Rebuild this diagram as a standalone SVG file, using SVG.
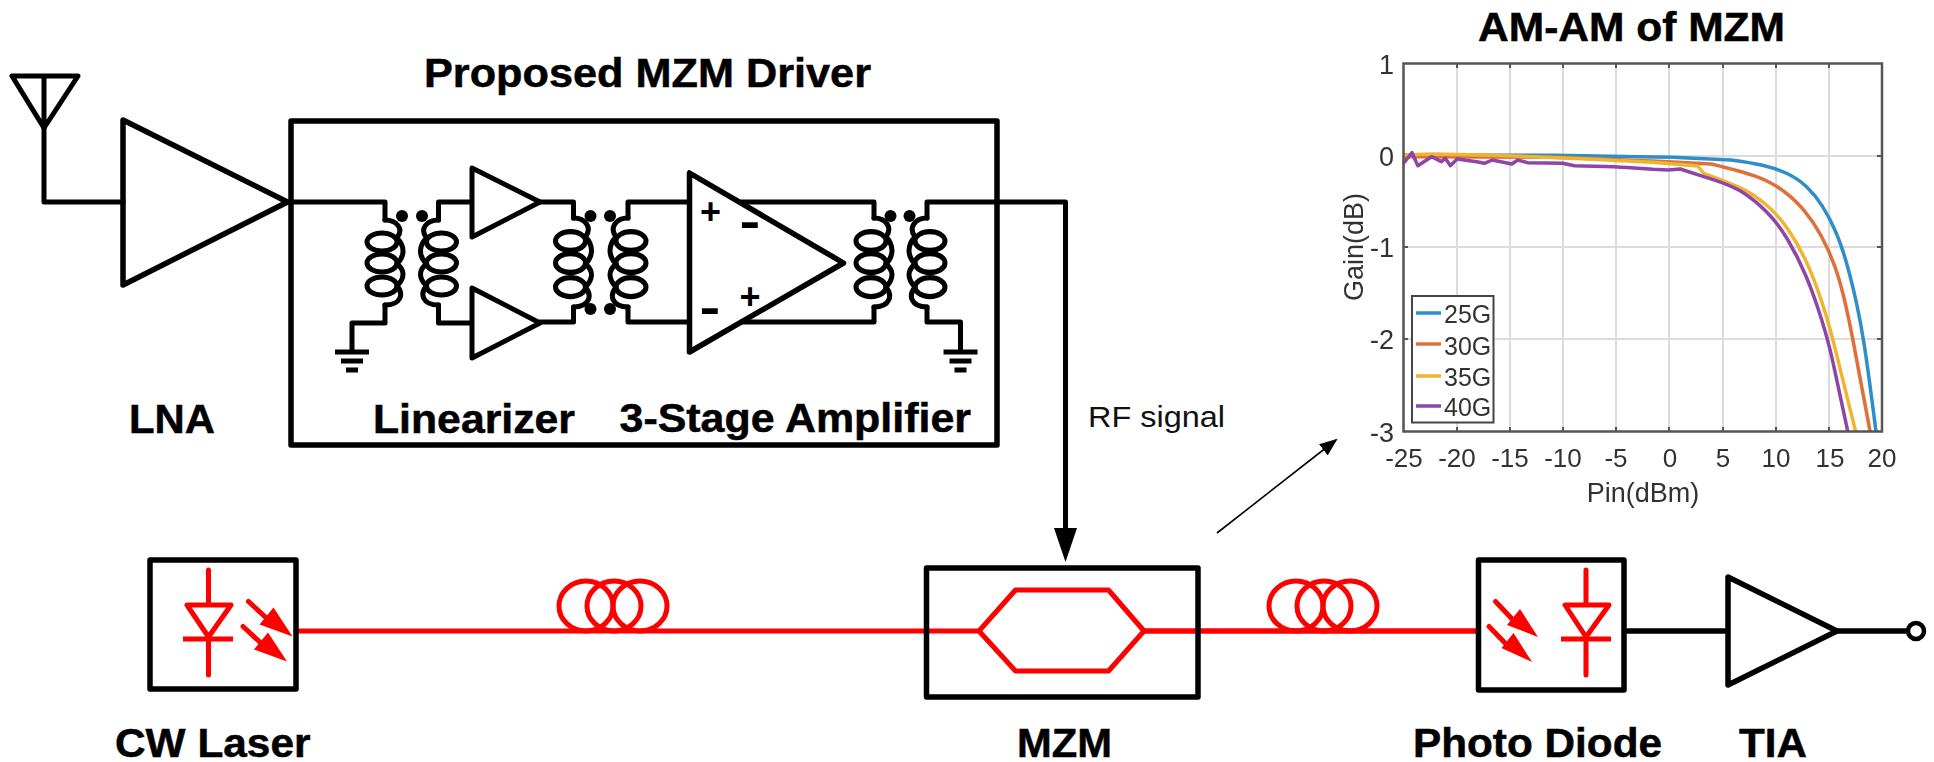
<svg xmlns="http://www.w3.org/2000/svg" width="1934" height="762" viewBox="0 0 1934 762">
<style>
.k{fill:none;stroke:#000;stroke-width:5;stroke-linejoin:round;stroke-linecap:round}
.b{fill:none;stroke:#000;stroke-width:5.500;stroke-linejoin:round}
.r{fill:none;stroke:#f00;stroke-width:5;stroke-linejoin:round;stroke-linecap:round}
.rf{fill:#f00;stroke:none}
.dot{fill:#000}
.lb{font-family:"Liberation Sans",Arial,sans-serif;font-weight:700;font-size:40px;fill:#000;stroke:#000;stroke-width:.5}
.sg{font-family:"Liberation Sans",Arial,sans-serif;font-weight:700;font-size:36px;fill:#000;text-anchor:middle}
.sm{font-family:"Liberation Sans",Arial,sans-serif;font-weight:700;font-size:48px;fill:#000;text-anchor:middle}
.rg{font-family:"Liberation Sans",Arial,sans-serif;font-size:30px;fill:#111}
.t{font-family:"Liberation Sans",Arial,sans-serif;font-size:26px;fill:#333;text-anchor:middle}
.ty{font-family:"Liberation Sans",Arial,sans-serif;font-size:27px;fill:#333;text-anchor:end}
.lg{font-family:"Liberation Sans",Arial,sans-serif;font-size:25px;fill:#333}
.grid{fill:none;stroke:#dcdcdc;stroke-width:2}
.c{fill:none;stroke-width:3.500;stroke-linejoin:round;vector-effect:non-scaling-stroke}
</style>
<defs>
<filter id="soft" x="-5%" y="-5%" width="110%" height="110%"><feGaussianBlur stdDeviation="0.6"/></filter>
<g id="coil" class="k">
<ellipse cx="-3" cy="22" rx="15" ry="9"/><ellipse cx="-3" cy="43" rx="15" ry="9"/><ellipse cx="-3" cy="66" rx="15" ry="9"/>
<path d="M0,0C12,0 19,9 12,18C20,26 20,36 12,44C20,50 20,58 12,66C19,74 16,85 0,85"/>
</g>
<g id="gnd"><rect x="-17" y="-2.500" width="34" height="5"/><rect x="-11" y="6.500" width="22" height="5"/><rect x="-6" y="15.500" width="12" height="5"/></g>
<g id="pd-arrows">
<path class="r" d="M0,0L26,24"/><path class="rf" d="M44,35L25,6L11,23Z"/>
</g>
<marker id="thin" markerWidth="18" markerHeight="14" refX="16" refY="7" orient="auto" markerUnits="userSpaceOnUse"><path d="M0,0L18,7L0,14Z" fill="#000"/></marker>
</defs>

<g id="connectors">
<path class="k" d="M44,128V202H123"/>
<path class="k" d="M287,202H385V220"/>
<path class="k" d="M385,305V323H352V350"/>
<path class="k" d="M471,202H438.500V220"/>
<path class="k" d="M471,323H438.500V305"/>
<path class="k" d="M540,202H573.500V218"/>
<path class="k" d="M540,322H573.500V307"/>
<path class="k" d="M689.500,202H628V218"/>
<path class="k" d="M689.500,322H628V307"/>
<path class="k" d="M741,202H874V218"/>
<path class="k" d="M741,322H874V307"/>
<path class="k" d="M927,218V202H1065.500V530"/>
<path class="k" d="M927,307V322H960.500V350"/>
<path d="M1054,528H1077L1065.500,562Z" fill="#000"/>
<path d="M1217,533L1336,440" fill="none" stroke="#000" stroke-width="1.600" marker-end="url(#thin)"/>
<path class="r" d="M296,631H979"/>
<path d="M1144,631H1477" fill="none" stroke="#f00" stroke-width="5.500"/>
<path d="M1624,631H1728M1837,631H1908" fill="none" stroke="#000" stroke-width="5.500"/>
</g>

<g id="antenna"><path class="k" d="M12,76H78L44,128Z M44,76V128"/></g>
<g id="lna"><path class="b" d="M123,120V285L287.500,202Z"/><text class="lb" x="129" y="433" textLength="86" lengthAdjust="spacingAndGlyphs">LNA</text></g>

<g id="mzm-driver">
<rect class="b" x="291" y="121" width="706" height="324"/>
<text class="lb" x="424" y="87" textLength="447" lengthAdjust="spacingAndGlyphs">Proposed MZM Driver</text>
<text class="lb" x="373" y="433" textLength="202" lengthAdjust="spacingAndGlyphs">Linearizer</text>
<text class="lb" x="619.500" y="432" textLength="351.500" lengthAdjust="spacingAndGlyphs">3-Stage Amplifier</text>
</g>

<g id="transformer-1">
<use href="#coil" transform="translate(385,220)"/>
<use href="#coil" transform="translate(438.500,220) scale(-1,1)"/>
<circle class="dot" cx="402" cy="216" r="6"/><circle class="dot" cx="422" cy="216" r="6"/>
<use href="#gnd" transform="translate(352,352)"/>
</g>
<g id="amp-1"><path class="k" d="M472,168V237L540,202Z"/></g>
<g id="amp-2"><path class="k" d="M472,288V358L540,323Z"/></g>
<g id="transformer-2">
<use href="#coil" transform="translate(573.500,218) scale(1,1.047)"/>
<use href="#coil" transform="translate(628,218) scale(-1,1.047)"/>
<circle class="dot" cx="590.500" cy="216" r="6"/><circle class="dot" cx="610" cy="216" r="6"/>
<circle class="dot" cx="590.500" cy="309" r="6"/><circle class="dot" cx="610" cy="309" r="6"/>
</g>
<g id="diff-amp">
<path class="b" d="M689.500,173V352L843.500,263Z"/>
<text class="sg" x="710.500" y="224">+</text><text class="sm" transform="translate(750,238) scale(1.3,1)">-</text>
<text class="sg" x="750" y="309">+</text><text class="sm" transform="translate(710,324) scale(1.3,1)">-</text>
</g>
<g id="transformer-3">
<use href="#coil" transform="translate(874,218) scale(1,1.047)"/>
<use href="#coil" transform="translate(927,218) scale(-1,1.047)"/>
<circle class="dot" cx="890.500" cy="216" r="6"/><circle class="dot" cx="909.500" cy="216" r="6"/>
<use href="#gnd" transform="translate(960.500,352)"/>
</g>
<g id="rf-label"><text class="rg" x="1088" y="427" textLength="137" lengthAdjust="spacingAndGlyphs">RF signal</text></g>

<g id="am-am-chart">
<text class="lb" x="1478" y="41" textLength="307" lengthAdjust="spacingAndGlyphs">AM-AM of MZM</text>
<g filter="url(#soft)">
<path class="grid" d="M1457,63V432M1510,63V432M1563,63V432M1616,63V432M1669,63V432M1723,63V432M1776,63V432M1829,63V432M1403,156H1882M1403,247H1882M1403,339H1882"/>
<path fill="none" stroke="#555" stroke-width="2" d="M1457,63v5M1510,63v5M1563,63v5M1616,63v5M1669,63v5M1723,63v5M1776,63v5M1829,63v5M1457,432v-5M1510,432v-5M1563,432v-5M1616,432v-5M1669,432v-5M1723,432v-5M1776,432v-5M1829,432v-5M1403,156h5M1403,247h5M1403,339h5M1882,156h-5M1882,247h-5M1882,339h-5"/>
<g transform="translate(1320,0) scale(0.39155,0.33333)">
<path class="c" stroke="#2f8fc8" d="M213,465L600,466L900,472L1050,480Q1100,488 1130,495.500Q1160,503 1190,519Q1220,535 1242.500,560Q1265,585 1282.500,617.500Q1300,650 1315,690Q1330,730 1342.500,780Q1355,830 1367.500,895Q1380,960 1390,1035Q1400,1110 1420,1295"/>
<path class="c" stroke="#e0703a" d="M213,470L600,472L850,483L1000,492Q1080,515 1115,530Q1150,545 1180,570Q1210,595 1235,630Q1260,665 1280,707.500Q1300,750 1315,800Q1330,850 1342.500,915Q1355,980 1367.500,1060Q1380,1140 1405,1295"/>
<path class="c" stroke="#efb52f" d="M213,465L285,462L450,466L700,478L850,487L965,498L980,520Q1050,550 1080,567.500Q1110,585 1140,615Q1170,645 1195,687.500Q1220,730 1240,780Q1260,830 1280,900Q1300,970 1317.500,1055Q1335,1140 1368,1295"/>
<path class="c" stroke="#8e44a8" d="M213,490L235,458L250,497L285,470L310,485L320,475L333,497L350,477L400,485L420,490L440,480L490,492L505,480L530,488L620,490L650,497L750,500L850,508L890,510L920,507L980,530Q1050,555 1080,577.500Q1110,600 1140,635Q1170,670 1195,720Q1220,770 1240,825Q1260,880 1280,955Q1300,1030 1312.500,1100Q1325,1170 1348,1295"/>
</g>
<rect x="1403.500" y="63.500" width="478.500" height="368" fill="none" stroke="#555" stroke-width="2.500"/>
<rect x="1412" y="296" width="81.500" height="126.500" fill="#fff" stroke="#444" stroke-width="2"/>
<path d="M1416,313H1441" stroke="#2f8fc8" stroke-width="3.500"/><path d="M1416,344H1441" stroke="#e0703a" stroke-width="3.500"/><path d="M1416,376H1441" stroke="#efb52f" stroke-width="3.500"/><path d="M1416,406H1441" stroke="#8e44a8" stroke-width="3.500"/>
<text class="lg" x="1444" y="323">25G</text><text class="lg" x="1444" y="355">30G</text><text class="lg" x="1444" y="386">35G</text><text class="lg" x="1444" y="416">40G</text>
<text class="ty" x="1394" y="74">1</text><text class="ty" x="1394" y="166">0</text><text class="ty" x="1394" y="257">-1</text><text class="ty" x="1394" y="349">-2</text><text class="ty" x="1394" y="442">-3</text>
<text class="t" x="1404" y="467">-25</text><text class="t" x="1457" y="467">-20</text><text class="t" x="1510" y="467">-15</text><text class="t" x="1563" y="467">-10</text><text class="t" x="1616" y="467">-5</text><text class="t" x="1670" y="467">0</text><text class="t" x="1723" y="467">5</text><text class="t" x="1776" y="467">10</text><text class="t" x="1830" y="467">15</text><text class="t" x="1882" y="467">20</text>
<text class="t" x="1643" y="502" style="font-size:27px">Pin(dBm)</text>
<text class="t" transform="translate(1363,247) rotate(-90)" style="font-size:27px">Gain(dB)</text>
</g>
</g>

<g id="cw-laser">
<rect class="b" x="150" y="560" width="146" height="129"/>
<path class="r" d="M208.500,570V605M187,605H231L208.500,637ZM208.500,637V675"/>
<path d="M183,639H233" stroke="#f00" stroke-width="5"/>
<use href="#pd-arrows" transform="translate(248.500,601.500)"/>
<use href="#pd-arrows" transform="translate(243,626.500)"/>
<text class="lb" x="115" y="757" textLength="195.500" lengthAdjust="spacingAndGlyphs">CW Laser</text>
</g>
<g id="fiber-1" class="r"><ellipse cx="586" cy="606" rx="27" ry="25"/><ellipse cx="614" cy="606" rx="27" ry="25"/><ellipse cx="640" cy="606" rx="27" ry="25"/></g>
<g id="mzm">
<rect class="b" x="926.500" y="568" width="271.500" height="129"/>
<path class="r" d="M979,631L1015.500,590H1108.500L1144,631L1108.500,671H1015.500Z"/>
<text class="lb" x="1017" y="757" textLength="95" lengthAdjust="spacingAndGlyphs">MZM</text>
</g>
<g id="fiber-2" class="r"><ellipse cx="1296" cy="606" rx="27" ry="25"/><ellipse cx="1324" cy="606" rx="27" ry="25"/><ellipse cx="1350" cy="606" rx="27" ry="25"/></g>
<g id="photo-diode">
<rect class="b" x="1478.500" y="560" width="145.500" height="130"/>
<path class="r" d="M1586,570V605M1565,605H1609L1586,637ZM1586,637V675"/>
<path d="M1561,639H1611" stroke="#f00" stroke-width="5"/>
<path class="r" d="M1495.500,601.500L1515,622"/><path class="rf" d="M1538,637L1520,609L1507,625Z"/>
<path class="r" d="M1489,626.500L1508,646"/><path class="rf" d="M1532,662L1513.500,633L1501.500,648Z"/>
<text class="lb" x="1413" y="757" textLength="249" lengthAdjust="spacingAndGlyphs">Photo Diode</text>
</g>
<g id="tia">
<path class="b" d="M1728,577V685L1837,631Z"/>
<circle cx="1916" cy="631" r="8" fill="#fff" stroke="#000" stroke-width="4.500"/>
<text class="lb" x="1739" y="757" textLength="68" lengthAdjust="spacingAndGlyphs">TIA</text>
</g>
</svg>
